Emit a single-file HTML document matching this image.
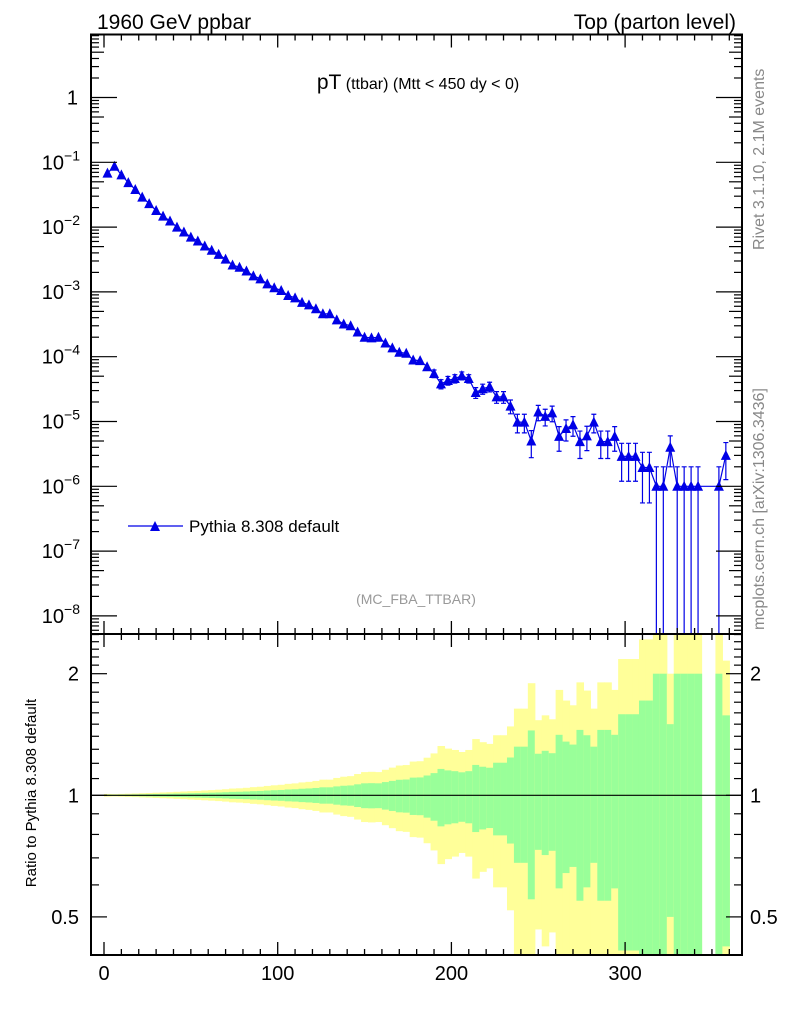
<!DOCTYPE html>
<html><head><meta charset="utf-8"><style>
html,body{margin:0;padding:0;background:#fff;width:786px;height:1024px;overflow:hidden;}
svg{display:block;font-family:"Liberation Sans",sans-serif;}
</style></head><body>
<svg id="chart" width="786" height="1024" viewBox="0 0 786 1024" xmlns="http://www.w3.org/2000/svg" overflow="hidden">
<defs>
<clipPath id="clipTop"><rect x="91" y="34.5" width="651" height="599.5"/></clipPath>
<clipPath id="clipRatio"><rect x="91" y="634" width="651" height="321"/></clipPath>
</defs>
<g id="ratioBands" clip-path="url(#clipRatio)"></g>
<g id="topMarks" clip-path="url(#clipTop)"></g>
<g id="axes"></g>
<text x="97" y="29" font-size="21">1960 GeV ppbar</text>
<text x="736" y="29" font-size="21" text-anchor="end">Top (parton level)</text>
<text x="418" y="89" text-anchor="middle"><tspan font-size="21">pT</tspan><tspan font-size="16"> (ttbar) (Mtt &lt; 450 dy &lt; 0)</tspan></text>
<text x="416" y="604" font-size="14" fill="#999" text-anchor="middle">(MC_FBA_TTBAR)</text>
<text transform="translate(764,250) rotate(-90)" font-size="16" fill="#888">Rivet 3.1.10,  2.1M events</text>
<text transform="translate(764,630) rotate(-90)" font-size="16" fill="#888">mcplots.cern.ch [arXiv:1306.3436]</text>
<text transform="translate(36,793) rotate(-90)" font-size="15" text-anchor="middle">Ratio to Pythia 8.308 default</text>
<g>
<line x1="128" y1="526" x2="183" y2="526" stroke="#0000e6" stroke-width="1.2"/>
<polygon points="150,531 160,531 155,521" fill="#0000e6"/>
<text x="189" y="532" font-size="17">Pythia 8.308 default</text>
</g>
</svg>
<script>
const binEdgesStart = 0;
const binWidth = 4;
const mcValues = [0.068,0.087,0.064,0.0485,0.038,0.029,0.023,0.018,0.0148,0.0124,
0.0100,0.0084,0.0070,0.0061,0.0051,0.0044,0.0038,0.0032,0.0026,0.0024,
0.0021,0.00177,0.00159,0.00133,0.00116,0.00105,0.00088,0.00081,0.00069,0.00063,
0.00055,0.00046,0.00046,0.00037,0.00032,0.00030,0.00024,0.00020,0.000195,0.00020,
0.000163,0.000137,0.000117,0.000113,8.9e-5,8.7e-5,7.0e-5,5.5e-5,3.8e-5,4.3e-5,
4.6e-5,5.1e-5,4.6e-5,2.8e-5,3.2e-5,3.45e-5,2.4e-5,2.4e-5,1.73e-5,9.8e-6,
9.8e-6,5.0e-6,1.4e-5,1.2e-5,1.36e-5,5.9e-6,7.8e-6,8.9e-6,4.9e-6,6.0e-6,
9.8e-6,4.9e-6,4.9e-6,5.9e-6,2.9e-6,2.9e-6,2.9e-6,1.95e-6,1.95e-6,1e-6,
1e-6,4e-6,1e-6,1e-6,1e-6,1e-6,null,null,1e-6,3e-6];
const eventWeight = 1e-6;
const xTickLabels = [0,100,200,300];
const yTopDecades = [0,-1,-2,-3,-4,-5,-6,-7,-8];
const ratioTickLabels = [0.5,1,2];
const ratioMinorTicks = [0.4,0.6,0.7,0.8,0.9,1.1,1.2,1.3,1.4,1.5,1.6,1.7,1.8,1.9,2.1,2.2,2.3,2.4,2.5];

const NS = "http://www.w3.org/2000/svg";
const L = 91, R = 742, T = 34.5, M = 634, B = 955;
function X(u){ return 104 + u*1.737; }
function Yt(v){ return 97.5 - 64.8*Math.log10(v); }
function Yr(r){ return 795.3 - 121.6*Math.log2(r); }
function mk(tag, attrs, parent){ const e=document.createElementNS(NS,tag); for(const k in attrs) e.setAttribute(k,attrs[k]); parent.appendChild(e); return e; }
function relErr(v){ return 1/Math.sqrt(v/eventWeight); }

const bandsG = document.getElementById('ratioBands');
const topG = document.getElementById('topMarks');
const axesG = document.getElementById('axes');

mcValues.forEach((v,i)=>{
  if(v===null) return;
  const e = relErr(v);
  const x0 = X(binEdgesStart+i*binWidth), x1 = X(binEdgesStart+(i+1)*binWidth);
  const yHi = 1+2*e, yLo = 1-2*e;
  const ya = Math.max(Yr(yHi), M-2), yb = yLo>0 ? Math.min(Yr(yLo), B+2) : B+2;
  const r1 = mk('rect',{x:x0,y:ya,width:x1-x0+0.6,height:yb-ya,fill:'#ffff99'},bandsG);
  
  
  const ga = Math.max(Yr(1+e), M-2), gb = (1-e)>0 ? Math.min(Yr(1-e), B+2) : B+2;
  const r2 = mk('rect',{x:x0,y:ga,width:x1-x0+0.6,height:gb-ga,fill:'#99ff99'},bandsG);
  
  
});
const one = mk('line',{x1:L,x2:R,y1:Yr(1),y2:Yr(1),stroke:'#000','stroke-width':1.2},bandsG);



let pts=[];
mcValues.forEach((v,i)=>{ if(v!==null) pts.push(X(binEdgesStart+(i+0.5)*binWidth).toFixed(1)+','+Yt(v).toFixed(1)); });
const pl = mk('polyline',{points:pts.join(' '),fill:'none',stroke:'#0000e6','stroke-width':1.2},topG);


mcValues.forEach((v,i)=>{
  if(v===null) return;
  const e = relErr(v);
  const cx = X(binEdgesStart+(i+0.5)*binWidth), cy = Yt(v);
  const yu = Yt(v*(1+e)), yl = (1-e)>1e-9 ? Math.min(Yt(v*(1-e)), M+2) : M+2;
  if(cy-yu>4 || yl-cy>4){
    const eb = mk('path',{d:`M${cx},${yu}V${yl}M${cx-2.5},${yu}H${cx+2.5}M${cx-2.5},${yl}H${cx+2.5}`,stroke:'#0000e6','stroke-width':1.2,fill:'none'},topG);
    
    
  }
  const tri = mk('polygon',{points:`${cx-5},${cy+4.5} ${cx+5},${cy+4.5} ${cx},${cy-5.5}`,fill:'#0000e6'},topG);
  
  
});

[[T,M],[M,B]].forEach(([y0,y1])=>{
  const f = mk('rect',{x:L,y:y0,width:R-L,height:y1-y0,fill:'none',stroke:'#000','stroke-width':2},axesG);
  
  
});
for(let u=0; u<=360; u+=10){
  const x = X(u), major = (u%100===0), len = major?13:6;
  [[T,1],[M,-1],[M,1],[B,-1]].forEach(([y,d])=>{
    mk('line',{x1:x,x2:x,y1:y,y2:y+d*len,stroke:'#000','stroke-width':1.3},axesG);
  });
}
xTickLabels.forEach(u=>{
  const t = mk('text',{x:X(u),y:980,'font-size':20,'text-anchor':'middle'},axesG);
  t.textContent = u;
  
  
});
for(let d=-9; d<=1; d++){
  for(let m=1;m<=9;m++){
    const v = m*Math.pow(10,d), y = Yt(v);
    if(y<T||y>M) continue;
    const len = m===1?26:(m===5?13:8);
    mk('line',{x1:L,x2:L+len,y1:y,y2:y,stroke:'#000','stroke-width':1.2},axesG);
    mk('line',{x1:R,x2:R-len,y1:y,y2:y,stroke:'#000','stroke-width':1.2},axesG);
  }
}
yTopDecades.forEach(d=>{
  const y = Yt(Math.pow(10,d));
  const t = mk('text',{x:80,y:y+7,'font-size':20,'text-anchor':'end'},axesG);
  
  
  if(d===0){ t.textContent='1'; t.setAttribute('x',78); }
  else {
    const a=document.createElementNS(NS,'tspan'); a.textContent='10'; t.appendChild(a);
    const b=document.createElementNS(NS,'tspan'); b.textContent='\u2212'+(-d); b.setAttribute('font-size',14); b.setAttribute('dy',-9); t.appendChild(b);
  }
});
ratioMinorTicks.forEach(r=>{
  const y=Yr(r); if(y<M||y>B) return;
  mk('line',{x1:L,x2:L+8,y1:y,y2:y,stroke:'#000','stroke-width':1.2},axesG);
  mk('line',{x1:R,x2:R-8,y1:y,y2:y,stroke:'#000','stroke-width':1.2},axesG);
});
ratioTickLabels.forEach(r=>{
  const y=Yr(r);
  mk('line',{x1:L,x2:L+16,y1:y,y2:y,stroke:'#000','stroke-width':1.2},axesG);
  mk('line',{x1:R,x2:R-16,y1:y,y2:y,stroke:'#000','stroke-width':1.2},axesG);
  const t1 = mk('text',{x:79,y:y+7,'font-size':20,'text-anchor':'end'},axesG);
  t1.textContent = r;
  
  
  const t2 = mk('text',{x:750,y:y+7,'font-size':20},axesG);
  t2.textContent = r;
  
  
});
</script>
</body></html>
